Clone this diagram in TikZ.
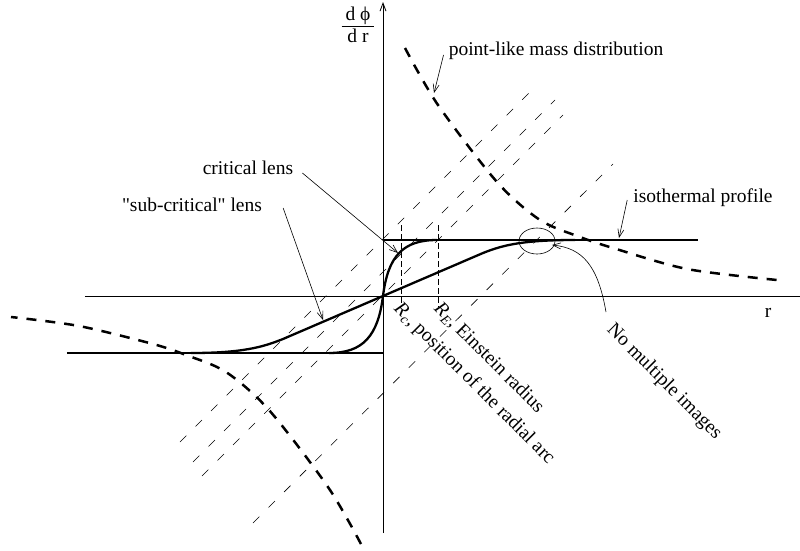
\documentclass[tikz,border=0pt]{standalone}
\usepackage{fontspec}
\setmainfont{Liberation Serif}[Ligatures=TeXOff]
\usetikzlibrary{arrows.meta,shapes.geometric}

\begin{document}
\begin{tikzpicture}[x=1pt,y=1pt,>={Straight Barb[length=8pt,width=6pt]},
 lbl/.style={inner sep=0pt,font=\fontsize{19.5}{23}\selectfont},
 axis/.style={line width=0.8pt},
 guide/.style={line width=0.6pt,dash pattern=on 9pt off 13pt},
 profile/.style={line width=2.3pt},
 pointmass/.style={line width=2.5pt,dash pattern=on 10pt off 9pt},
 rline/.style={line width=0.7pt,dash pattern=on 6pt off 3pt},
 pointer/.style={line width=0.6pt,->}]
\useasboundingbox (-383,-254) rectangle (417,296);
% axes
\draw[axis] (-298,0) -- (417,0);
\draw[axis,->] (0,-237) -- (0,294);
\node[lbl] (dphidr) at (-25,269) {\begin{tabular}{@{\hspace{4pt}}c@{\hspace{4pt}}}d ϕ\\[-1pt]\hline d r\end{tabular}};
\node[lbl] (r) at (385,-17) {r};
% dashed 45 degree lines
\foreach \xa/\ya/\xb/\yb in {-203/-146/154/211,-190/-166/172/196,-181/-180/180/181,-130/-227/230/132}
  \draw[guide] (\xa,\ya) -- (\xb,\yb);
% profiles
\draw[profile] (-316,-57) -- (0,-57);
\draw[profile] (0,56) -- (315,56);
\draw[profile] (-54,-57) .. controls (-20,-57) and (-5,-40) .. (0,0)
  .. controls (5,40) and (20,56) .. (54,56);
\draw[profile] (-192,-57) .. controls (-140,-57) and (-120,-51) .. (-100,-43) -- (100,43)
  .. controls (120,51) and (140,56) .. (192,56);
\draw[rline] (18,71) -- (18,-11);
\draw[rline] (55,71) -- (55,-11);
% point-like mass
\draw[pointmass] plot[smooth] coordinates {(22,248) (55,191) (114,114) (157,76) (197,59) (230,48) (304,27) (394,16)};
\draw[pointmass] plot[smooth] coordinates {(-22,-248) (-55,-191) (-114,-114) (-157,-76) (-197,-59) (-230,-48) (-304,-30) (-372,-21)};
\node[draw,ellipse,line width=0.6pt,minimum width=36pt,minimum height=26pt,inner sep=0pt] (oval) at (154,55) {};
% labels
\node[lbl] (pm) at (173,245) {point-like mass distribution};
\node[lbl] (iso) at (320,98) {isothermal profile};
\node[lbl] (crit) at (-135,128) {critical lens};
\node[lbl] (sub) at (-191,91) {"sub-critical" lens};
\node[lbl,rotate=-45,anchor=north west] (rc) at (20,-4) {\textit{R}\textsubscript{\textit{c}}, position of the radial arc};
\node[lbl,rotate=-45,anchor=north west] (re) at (60,-4) {\textit{R}\textsubscript{\textit{E}}, Einstein radius};
\node[lbl,rotate=-45,anchor=north west] (nomult) at (233,-25) {No multiple images};
\coordinate (pmtip) at (51,203);
\coordinate (isotip) at (236,58);
\coordinate (crittip) at (15,43);
\coordinate (subtip) at (-60,-24);
\coordinate (ovaltip) at (169,51);
\draw[pointer] ([xshift=-5pt,yshift=-4pt]pm.west) -- (pmtip);
\draw[pointer] ([xshift=-6pt,yshift=-2pt]iso.west) -- (isotip);
\draw[pointer] ([xshift=9pt,yshift=-5pt]crit.east) -- (crittip);
\draw[pointer] ([xshift=21pt,yshift=-3pt]sub.east) -- (subtip);
\draw[pointer] ([shift={(-10pt,9pt)}]nomult.north west) .. controls (215,30) and (200,48) .. (ovaltip);
\end{tikzpicture}
\end{document}
